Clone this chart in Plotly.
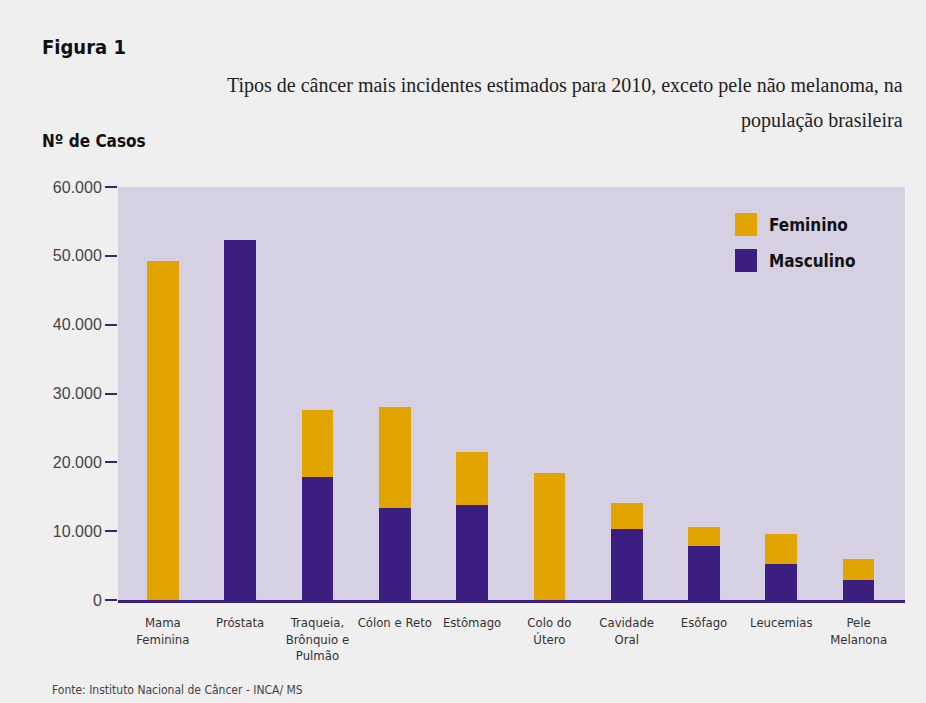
import plotly.graph_objects as go

categories = ["Mama<br>Feminina", "Próstata", "Traqueia,<br>Brônquio e<br>Pulmão", "Cólon e Reto",
              "Estômago", "Colo do<br>Útero", "Cavidade<br>Oral", "Esôfago", "Leucemias", "Pele<br>Melanona"]
masculino = [0, 52350, 17800, 13310, 13820, 0, 10330, 7890, 5240, 2960]
feminino = [49240, 0, 9830, 14800, 7680, 18430, 3790, 2740, 4340, 2970]
y_ticks = [0, 10000, 20000, 30000, 40000, 50000, 60000]
y_ticktext = ["0", "10.000", "20.000", "30.000", "40.000", "50.000", "60.000"]

GOLD = "#e1a400"
PURPLE = "#3a1f80"
W, H = 926, 703
L, R, T, B = 118, 905, 187, 600

def px(x):
    return (x - L) / (R - L)

def py(y):
    return (B - y) / (B - T)

xs = list(range(len(categories)))

fig = go.Figure()
fig.add_trace(go.Bar(x=xs, y=masculino, name="Masculino", marker=dict(color=PURPLE, line=dict(width=0)),
                     width=0.41, showlegend=False))
fig.add_trace(go.Bar(x=xs, y=feminino, name="Feminino", marker=dict(color=GOLD, line=dict(width=0)),
                     width=0.41, showlegend=False))

narrow = "DejaVu Sans Condensed, Liberation Sans Narrow, sans-serif"
serif = "Liberation Serif, Times New Roman, serif"

fig.update_layout(
    width=W, height=H,
    barmode="stack",
    paper_bgcolor="#efefef",
    plot_bgcolor="#d5d1e3",
    margin=dict(l=L, r=W - R, t=T, b=H - B, pad=0),
    xaxis=dict(tickmode="array", tickvals=xs, ticktext=categories, range=[-0.58, 9.6],
               showline=True, linecolor=PURPLE, linewidth=3, ticks="", showgrid=False, zeroline=False,
               ticklabelstandoff=8,
               tickfont=dict(family=narrow, size=13, color="#333333"), fixedrange=True),
    yaxis=dict(range=[0, 60000], tickvals=y_ticks, ticktext=y_ticktext, showgrid=False, zeroline=False,
               ticks="outside", ticklen=12, tickwidth=2, tickcolor=PURPLE, showline=False,
               tickfont=dict(family="Liberation Sans, Arial, sans-serif", size=16, color="#444444")),
    showlegend=False,
)

annotations = [
    dict(text="<b>Figura 1</b>", x=px(40), y=py(47), xanchor="left", yanchor="middle",
         font=dict(family=narrow, size=20, color="#111111")),
    dict(text="Tipos de câncer mais incidentes estimados para 2010, exceto pele não melanoma, na",
         x=1.0, y=py(85), xanchor="right", yanchor="middle", font=dict(family=serif, size=20, color="#222222")),
    dict(text="população brasileira", x=1.0, y=py(120), xanchor="right", yanchor="middle",
         font=dict(family=serif, size=20, color="#222222")),
    dict(text="<b>Nº de Casos</b>", x=px(40), y=py(141), xanchor="left", yanchor="middle",
         font=dict(family=narrow, size=17, color="#111111")),
    dict(text="Fonte: Instituto Nacional de Câncer - INCA/ MS", x=px(50), y=py(690), xanchor="left",
         yanchor="middle", font=dict(family=narrow, size=12, color="#444444")),
    dict(text="<b>Feminino</b>", x=px(767), y=py(225), xanchor="left", yanchor="middle",
         font=dict(family=narrow, size=17, color="#111111")),
    dict(text="<b>Masculino</b>", x=px(767), y=py(261), xanchor="left", yanchor="middle",
         font=dict(family=narrow, size=17, color="#111111")),
]
for a in annotations:
    a.update(xref="paper", yref="paper", showarrow=False)
fig.update_layout(annotations=annotations)

fig.add_shape(type="rect", xref="paper", yref="paper", x0=px(735), x1=px(757), y0=py(236), y1=py(213),
              fillcolor=GOLD, line=dict(width=0))
fig.add_shape(type="rect", xref="paper", yref="paper", x0=px(735), x1=px(757), y0=py(272), y1=py(249),
              fillcolor=PURPLE, line=dict(width=0))

fig.write_html("out.html")
